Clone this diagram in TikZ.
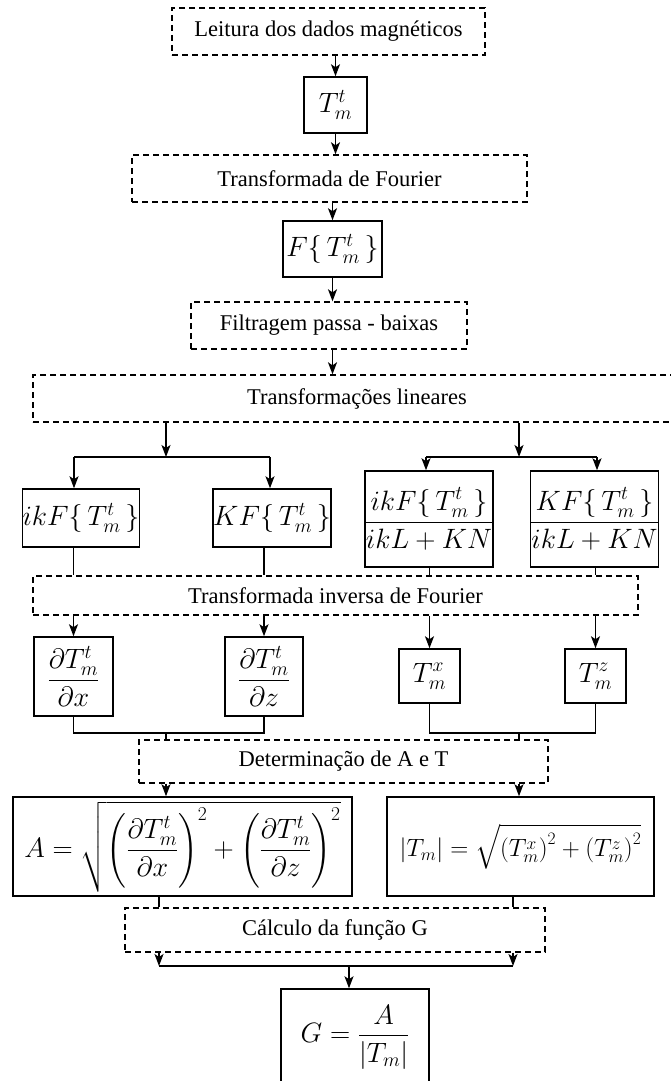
\RequirePackage{fix-cm}
\documentclass[tikz,border=0pt]{standalone}
\usepackage{amsmath}
\usepackage{fontspec}
\setmainfont{Liberation Serif}
\usepackage{tikz}
\usetikzlibrary{arrows.meta, calc}

\begin{document}
\begin{tikzpicture}[x=1pt, y=-1pt,
  caixa/.style={draw, line width=1.5pt, inner sep=0pt, font=\fontsize{28}{34}\selectfont},
  etapa/.style={draw, line width=1.4pt, dash pattern=on 6pt off 4pt, inner sep=0pt, font=\fontsize{22.5}{26}\selectfont},
  seta/.style={line width=1.5pt, -{Stealth[length=12pt, width=9pt, inset=3pt]}},
  linha/.style={line width=1.5pt}]
\useasboundingbox (0,0) rectangle (671,1081); % Moldura da figura

%% Etapas iniciais %%%%%%%%%%%%%%%%%%%%%%%%%%%%%%%%%%%%
\node[etapa, minimum width=313pt, minimum height=47pt] (lei) at (328.5,31.5) {Leitura dos dados magnéticos};
\node[caixa, minimum width=63pt, minimum height=56pt] (tmt) at (335.5,105) {$T_m^t$};
\node[etapa, minimum width=395pt, minimum height=47pt] (fou) at (329.5,178.5) {Transformada de Fourier};
\node[caixa, minimum width=99pt, minimum height=56pt] (ftm) at (332.5,249) {$F\{\,T_m^t\,\}$};
\node[etapa, minimum width=276pt, minimum height=47pt] (fil) at (329,325.5) {Filtragem passa - baixas};
\node[etapa, minimum width=648pt, minimum height=47pt] (lin) at (357,398.5) {Transformações lineares};

\draw[seta] (tmt.north |- lei.south) -- (tmt.north);
\draw[seta] (tmt.south) -- (tmt.south |- fou.north);
\draw[seta] (ftm.north |- fou.south) -- (ftm.north);
\draw[seta] (ftm.south) -- (ftm.south |- fil.north);
\draw[seta] (ftm.south |- fil.south) -- (ftm.south |- lin.north);

%% Transformacoes lineares %%%%%%%%%%%%%%%%%%%%%%%%%%%
\node[caixa, minimum width=114pt, minimum height=58pt] (ikf) at (81,518) {$ikF\{\,T_m^t\,\}$};
\node[caixa, minimum width=115pt, minimum height=58pt] (kf) at (272,518) {$KF\{\,T_m^t\,\}$};
\node[caixa, minimum width=124pt, minimum height=96pt] (fra) at (429,519) {$\dfrac{ikF\{\,T_m^t\,\}}{ikL+KN}$};
\node[caixa, minimum width=125pt, minimum height=96pt] (frb) at (594.5,519) {$\dfrac{KF\{\,T_m^t\,\}}{ikL+KN}$};

\coordinate (ja) at (166,457);
\coordinate (ja1) at (74,457);
\coordinate (ja2) at (270,457);
\coordinate (jb) at (519,457);
\coordinate (jb1) at (426,457);
\coordinate (jb2) at (597,457);
\draw[seta] (lin.south -| ja) -- (ja);
\draw[linha] (ja1) -- (ja2);
\draw[seta] (ja1) -- (ja1 |- ikf.north);
\draw[seta] (ja2) -- (ja2 |- kf.north);
\draw[seta] (lin.south -| jb) -- (jb);
\draw[linha] (jb1) -- (jb2);
\draw[seta] (jb1) -- (jb1 |- fra.north);
\draw[seta] (jb2) -- (jb2 |- frb.north);

%% Transformada inversa %%%%%%%%%%%%%%%%%%%%%%%%%%%%%%%
\node[etapa, minimum width=605pt, minimum height=39pt] (inv) at (335.5,595.5) {Transformada inversa de Fourier};
\node[caixa, minimum width=79pt, minimum height=79pt] (dtx) at (73.5,676.5) {$\dfrac{\partial T_m^t}{\partial x}$};
\node[caixa, minimum width=78pt, minimum height=79pt] (dtz) at (264,676.5) {$\dfrac{\partial T_m^t}{\partial z}$};
\node[caixa, minimum width=61pt, minimum height=54pt] (tx) at (429.5,676) {$T_m^x$};
\node[caixa, minimum width=61pt, minimum height=54pt] (tz) at (595.5,676) {$T_m^z$};

\draw[linha] (ikf.south -| dtx.north) -- (inv.north -| dtx.north);
\draw[linha] (kf.south -| dtz.north) -- (inv.north -| dtz.north);
\draw[linha] (fra.south -| tx.north) -- (inv.north -| tx.north);
\draw[linha] (frb.south -| tz.north) -- (inv.north -| tz.north);
\foreach \cx in {dtx, dtz, tx, tz}{
  \draw[seta] (inv.south -| \cx.north) -- (\cx.north);}

%% Determinacao de A e T %%%%%%%%%%%%%%%%%%%%%%%%%%%%%%
\node[etapa, minimum width=409pt, minimum height=43pt] (det) at (343.5,761.5) {Determinação de A e T};
\coordinate (jc) at (166,733);
\coordinate (jd) at (519,733);
\draw[linha] (dtx.south) |- (jc) -| (dtz.south);
\draw[linha] (tx.south) |- (jd) -| (tz.south);
\draw[linha] (jc) -- (jc |- det.north);
\draw[linha] (jd) -- (jd |- det.north);

\node[caixa, minimum width=339pt, minimum height=99pt] (amp) at (182.5,846.5)
  {$A=\sqrt{\left(\dfrac{\partial T_m^t}{\partial x}\right)^{2}+\left(\dfrac{\partial T_m^t}{\partial z}\right)^{2}}$};
\node[caixa, minimum width=267pt, minimum height=99pt, font=\fontsize{25}{30}\selectfont] (mod) at (520.5,846.5)
  {$\left|T_m\right|=\sqrt{\left(T_m^x\right)^{2}+\left(T_m^z\right)^{2}}$};
\draw[seta] (det.south -| jc) -- (amp.north -| jc);
\draw[seta] (det.south -| jd) -- (mod.north -| jd);

%% Calculo da funcao G %%%%%%%%%%%%%%%%%%%%%%%%%%%%%%%%
\node[etapa, minimum width=420pt, minimum height=44pt] (cal) at (335,930) {Cálculo da função G};
\node[caixa, minimum width=148pt, minimum height=96pt] (gfn) at (355,1037) {$G=\dfrac{A}{\left|T_m\right|}$};
\coordinate (je) at (159,966);
\coordinate (jf) at (513,966);
\coordinate (jg) at (349,966);
\draw[linha] (amp.south -| je) -- (cal.north -| je);
\draw[linha] (mod.south -| jf) -- (cal.north -| jf);
\draw[seta] (cal.south -| je) -- (je);
\draw[seta] (cal.south -| jf) -- (jf);
\draw[linha] (je) -- (jf);
\draw[seta] (jg) -- (jg |- gfn.north);
\end{tikzpicture}
\end{document}
